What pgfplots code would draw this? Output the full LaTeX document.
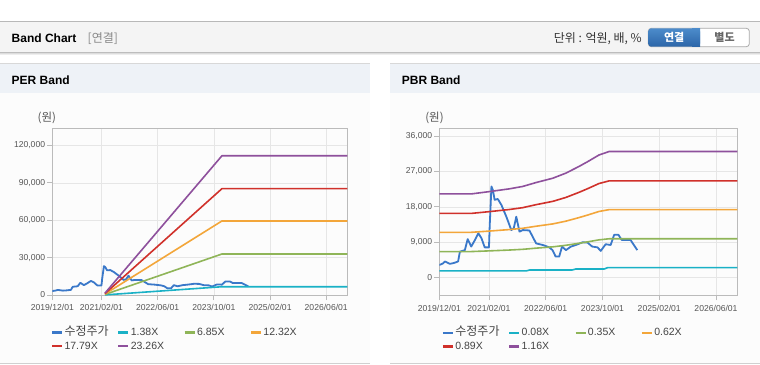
\documentclass[border=0pt]{standalone}
\usepackage{fontspec}
\setmainfont{Liberation Sans}
\newfontfamily\kr{Noto Sans CJK KR}
\usepackage{pgfplots}
\usepackage{pgfplotstable}
\pgfplotsset{compat=1.18}
\definecolor{cPrice}{HTML}{3A78C9}
\definecolor{cCyan}{HTML}{1AB1C6}
\definecolor{cGreen}{HTML}{8FB558}
\definecolor{cOrange}{HTML}{F3A63A}
\definecolor{cRed}{HTML}{D0312B}
\definecolor{cPurple}{HTML}{8E509C}
\definecolor{gridc}{HTML}{E6E6E6}
\definecolor{framec}{HTML}{BBBBBB}
\definecolor{tickc}{HTML}{555555}
\definecolor{legc}{HTML}{444444}
\definecolor{hdrbg}{HTML}{F4F4F4}
\definecolor{hdrtop}{HTML}{B8B8B8}
\definecolor{hdrbot}{HTML}{BDBDBD}
\definecolor{shad1}{HTML}{DDDDDD}
\definecolor{shad2}{HTML}{EEEEEE}
\definecolor{grayt}{HTML}{888888}
\definecolor{darkt}{HTML}{333333}
\definecolor{btnb}{HTML}{AAAAAA}
\definecolor{btntop}{HTML}{4C8BCB}
\definecolor{btnbot}{HTML}{2C66A8}
\definecolor{btnt}{HTML}{666666}
\definecolor{bodybg}{HTML}{FCFCFC}
\definecolor{stripbg}{HTML}{EEF2F7}
\definecolor{pline}{HTML}{D8D8D8}
\definecolor{pbot}{HTML}{D0D0D0}

\pgfplotstableread{
m v
0 3200
1 3600
1.6 4100
3 3500
4 3700
5.3 4100
5.8 6600
7.2 7000
8 9800
9 7900
10 9500
11 11300
11.9 10000
12.8 7700
14 7700
14.2 13000
14.7 23200
15.1 22300
15.6 19800
16.5 20000
17.5 18500
18.9 15500
20.3 12100
21 12600
21.7 15500
22.6 11700
23.5 12100
25.4 12000
27.3 8700
29.2 8300
31 7700
31.9 7000
32.8 5350
33.8 5350
34.6 7900
35.7 7000
37.1 7900
38.5 8300
40.4 9000
41.8 8900
43.1 7900
44.6 7700
45.5 6800
46.9 8500
48.3 8300
49.3 10900
50.5 10900
51.4 9600
52.5 9600
53.9 9600
55.8 7000
}\price

% PER bands
\pgfplotstableread{
m c g o r p
15 90 450 800 1150 1500
48.3 6630 32900 59400 85300 111700
84 6630 32900 59400 85300 111700
}\perband

% PBR bands
\pgfplotstableread{
m g o r p
0 6630 11530 16340 21300
9 6630 11530 16340 21300
14.2 6810 11850 16800 21900
19.8 7020 12230 17340 22600
23.5 7200 12550 17800 23200
27.3 7500 13080 18570 24200
32 7830 13670 19410 25300
35.7 8230 14370 20410 26600
39.4 8740 15280 21710 28300
41.8 9100 15920 22630 29500
45 9610 16830 23940 31200
47.9 9890 17310 24630 32100
84 9890 17310 24630 32100
}\pbrband

\pgfplotstableread{
m c
0 1700
24.5 1700
25.5 1950
37.5 1950
38.5 2200
46.5 2200
47.5 2550
84 2550
}\pbrcyan

\pgfplotsset{bandaxis/.style={
  scale only axis,
  axis line style={framec, line width=0.8pt},
  xmin=0, xmax=84,
  xtick={0,14,30,46,62,78},
  xticklabels={2019/12/01,2021/02/01,2022/06/01,2023/10/01,2025/02/01,2026/06/01},
  grid=major, grid style={gridc, line width=0.6pt},
  tick align=outside, major tick length=5pt,
  tick style={framec, line width=0.8pt},
  xtick pos=bottom, ytick pos=left,
  tick label style={font=\fontsize{8.6}{10}\selectfont, text=tickc},
  /pgf/number format/assume math mode=true,
  scaled y ticks=false,
  yticklabel style={/pgf/number format/fixed, /pgf/number format/precision=0, /pgf/number format/1000 sep={,}, inner sep=2pt},
  xticklabel style={yshift=-1pt},
  legend columns=4,
  legend style={draw=none, fill=none, inner sep=0pt, anchor=north west,
    font=\fontsize{10.5}{12}\selectfont, text=legc,
    nodes={inner sep=1.3pt, text height=8.5pt, text depth=2.5pt},
    /tikz/every even column/.append style={column sep=1.5pt}},
  legend image code/.code={\draw[##1, line width=2.2pt] (0pt,0pt) -- (10pt,0pt);},
  legend cell align=left,
  every axis plot/.append style={line width=1.6pt, no markers, line join=round},
}}

\begin{document}
\begin{tikzpicture}[x=1pt,y=1pt]
\useasboundingbox (0,0) rectangle (760,364);
\fill[white] (0,0) rectangle (760,364);
% header bar
\fill[hdrbg] (0,311) rectangle (760,342);
\draw[hdrtop, line width=1pt] (0,342) -- (760,342);
\draw[hdrbot, line width=1pt] (0,311) -- (760,311);
\draw[shad1, line width=1pt] (0,310) -- (760,310);
\draw[shad2, line width=1pt] (0,309) -- (760,309);
\node[anchor=west, font=\bfseries\fontsize{12}{14}\selectfont, inner sep=0pt] at (11.5,325.7) {Band Chart};
\node[anchor=west, font=\kr\fontsize{12}{14}\selectfont, text=grayt, inner sep=0pt] at (87.5,325.7) {[연결]};
\node[anchor=east, font=\kr\fontsize{12}{14}\selectfont, text=darkt, inner sep=0pt] at (642,325.5) {단위 : 억원, 배, \%};
% buttons
\draw[btnb, fill=white, rounded corners=3pt, line width=0.8pt] (648.3,317.3) rectangle (749.3,335.7);
\shade[top color=btntop, bottom color=btnbot, rounded corners=3pt] (648.3,317.3) rectangle (700,335.7);
\shade[top color=btntop, bottom color=btnbot] (692,317.3) rectangle (700,335.7);
\node[font=\kr\bfseries\fontsize{11}{12}\selectfont, text=white, inner sep=0pt] at (674.2,326.5) {연결};
\node[font=\kr\bfseries\fontsize{11}{12}\selectfont, text=btnt, inner sep=0pt] at (724.6,326.5) {별도};
% panels
\foreach \xa/\xb in {0/370, 390/760} {
  \fill[bodybg] (\xa,1) rectangle (\xb,271);
  \fill[stripbg] (\xa,271) rectangle (\xb,300);
  \draw[pline, line width=1pt] (\xa,300) -- (\xb,300);
  \draw[pbot, line width=1pt] (\xa,1) -- (\xb,1);
}
\node[anchor=west, font=\bfseries\fontsize{12}{14}\selectfont, inner sep=0pt] at (11.5,283.3) {PER Band};
\node[anchor=west, font=\bfseries\fontsize{12}{14}\selectfont, inner sep=0pt] at (401.7,283.3) {PBR Band};
\node[font=\kr\fontsize{11.5}{13}\selectfont, text=tickc, inner sep=0pt] at (46.8,245.7) {(원)};
\node[font=\kr\fontsize{11.5}{13}\selectfont, text=tickc, inner sep=0pt] at (434.5,245.7) {(원)};

% PER axis
\begin{axis}[bandaxis, at={(52.3pt,69pt)}, anchor=south west, width=295pt, height=167pt,
  ymin=0, ymax=134000, ytick={0,30000,60000,90000,120000},
  legend style={at={(-0.005,-0.183)}}]
\addplot[cPrice, line width=1.8pt] table[x=m, y=v] {\price};
\addlegendentry{\makebox[50pt][l]{\kr\fontsize{12}{13}\selectfont 수정주가}}
\addplot[cCyan] table[x=m, y=c] {\perband};
\addlegendentry{\makebox[50pt][l]{1.38X}}
\addplot[cGreen] table[x=m, y=g] {\perband};
\addlegendentry{\makebox[50pt][l]{6.85X}}
\addplot[cOrange] table[x=m, y=o] {\perband};
\addlegendentry{\makebox[50pt][l]{12.32X}}
\addplot[cRed] table[x=m, y=r] {\perband};
\addlegendentry{\makebox[50pt][l]{17.79X}}
\addplot[cPurple] table[x=m, y=p] {\perband};
\addlegendentry{\makebox[50pt][l]{23.26X}}
\end{axis}

% PBR axis
\begin{axis}[bandaxis, at={(439.3pt,68.7pt)}, anchor=south west, width=298pt, height=167pt,
  ymin=-4500, ymax=38000, ytick={0,9000,18000,27000,36000},
  legend style={at={(0.008,-0.183)}}]
\addplot[cPrice, line width=1.8pt] table[x=m, y=v] {\price};
\addlegendentry{\makebox[50pt][l]{\kr\fontsize{12}{13}\selectfont 수정주가}}
\addplot[cCyan] table[x=m, y=c] {\pbrcyan};
\addlegendentry{\makebox[50pt][l]{0.08X}}
\addplot[cGreen] table[x=m, y=g] {\pbrband};
\addlegendentry{\makebox[50pt][l]{0.35X}}
\addplot[cOrange] table[x=m, y=o] {\pbrband};
\addlegendentry{\makebox[50pt][l]{0.62X}}
\addplot[cRed] table[x=m, y=r] {\pbrband};
\addlegendentry{\makebox[50pt][l]{0.89X}}
\addplot[cPurple] table[x=m, y=p] {\pbrband};
\addlegendentry{\makebox[50pt][l]{1.16X}}
\end{axis}
\end{tikzpicture}
\end{document}
